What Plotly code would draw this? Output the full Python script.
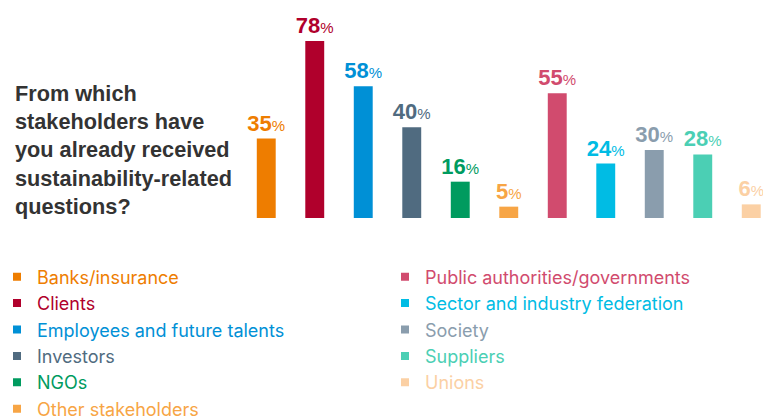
import plotly.graph_objects as go

categories = ["Banks/insurance", "Clients", "Employees and future talents", "Investors", "NGOs",
              "Other stakeholders", "Public authorities/governments", "Sector and industry federation",
              "Society", "Suppliers", "Unions"]
values = [35, 78, 58, 40, 16, 5, 55, 24, 30, 28, 6]
colors = ["#EE7D00", "#B0002C", "#0090D6", "#506B80", "#009B5F", "#F7A545",
          "#D14B6E", "#00BCE4", "#8A9DAD", "#4BCFB4", "#FBD0A4"]
question = "From which<br>stakeholders have<br>you already received<br>sustainability-related<br>questions?"

OFF = 8  # page body margin
W, H = 771 - OFF, 417 - OFF
ML, MT = 242 - OFF, 36 - OFF
BASE = 218 - OFF
MB = H - BASE
PW = W - ML
PH = H - MT - MB
step = 48.5
xr = [-0.5, -0.5 + PW / step]
yr = [0, PH / 2.27]

def px_x(p):
    return (p - OFF - ML) / PW

def px_y(p):
    return (BASE - (p - OFF)) / PH

fig = go.Figure()
fig.add_trace(go.Bar(
    x=categories, y=values, width=0.39,
    marker=dict(color=colors, line=dict(width=0)),
    texttemplate="<b>%{y}</b><span style='font-size:15px'>%</span>",
    textposition="outside", constraintext="none", cliponaxis=False,
    textfont=dict(color=colors, size=22, family="Liberation Sans, Arial, sans-serif"),
    showlegend=False, hoverinfo="skip",
))

for i, (c, col) in enumerate(zip(categories, colors)):
    fig.add_trace(go.Scatter(
        x=[None], y=[None], mode="markers",
        marker=dict(symbol="square", size=8, color=col),
        name=f"<span style='color:{col}'>{c}</span>",
        legend="legend" if i < 6 else "legend2",
        legendgroup=c,
    ))

legend_common = dict(
    xanchor="left", yanchor="top", bgcolor="rgba(0,0,0,0)", borderwidth=0,
    font=dict(size=18, family="Inter, Liberation Sans, Arial, sans-serif"),
    tracegroupgap=0, itemclick=False, itemdoubleclick=False,
)

fig.update_layout(
    width=W, height=H,
    margin=dict(l=ML, r=0, t=MT, b=MB, autoexpand=False),
    paper_bgcolor="white", plot_bgcolor="white",
    xaxis=dict(visible=False, range=xr, categoryorder="array", categoryarray=categories),
    yaxis=dict(visible=False, range=yr),
    bargap=0.6,
    legend=dict(x=px_x(-3), y=px_y(258.5), **legend_common),
    legend2=dict(x=px_x(385), y=px_y(258.5), **legend_common),
    annotations=[dict(
        text=f"<b>{question}</b>", xref="paper", yref="paper",
        x=px_x(13), y=px_y(150), xanchor="left", yanchor="middle", align="left",
        showarrow=False,
        font=dict(size=21.7, color="#333333", family="Liberation Sans, Arial, sans-serif"),
    )],
)

fig.write_html("out.html")
